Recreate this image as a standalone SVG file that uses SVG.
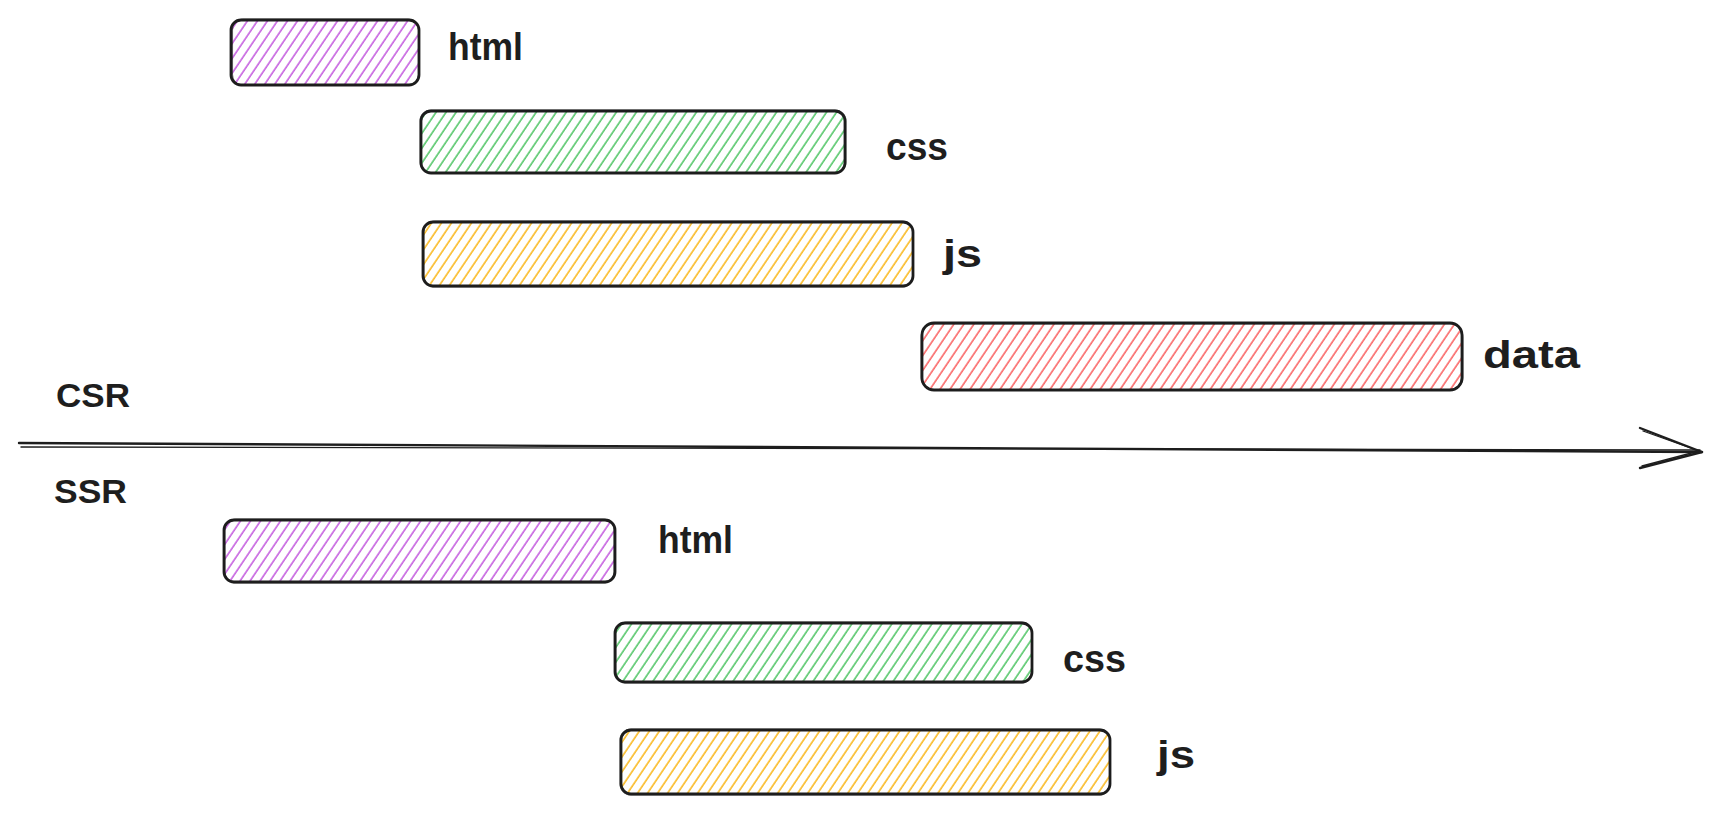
<svg xmlns="http://www.w3.org/2000/svg" width="1720" height="813" viewBox="0 0 1720 813">
  <style>
    .box { stroke: #1e1e1e; stroke-width: 2.8; stroke-linejoin: round; }
    .box2 { fill: none; stroke: #1e1e1e; stroke-width: 1.1; opacity: 0.55; }
    .lbl { font-family: "Liberation Sans", Arial, sans-serif; font-weight: bold; font-size: 38px; fill: #1e1e1e; }
    .ttl { font-family: "Liberation Sans", Arial, sans-serif; font-weight: bold; font-size: 33px; fill: #1e1e1e; }
    .axis { fill: none; stroke: #1e1e1e; stroke-linecap: round; stroke-linejoin: round; }
  </style>
  <defs>
    <pattern id="hPurple" width="8.3" height="10" patternUnits="userSpaceOnUse" patternTransform="rotate(34)">
      <line x1="1" y1="0" x2="1" y2="10" stroke="#be4bdb" stroke-width="1.4"/>
    </pattern>
    <pattern id="hGreen" width="8.3" height="10" patternUnits="userSpaceOnUse" patternTransform="rotate(34)">
      <line x1="1" y1="0" x2="1" y2="10" stroke="#40c057" stroke-width="1.4"/>
    </pattern>
    <pattern id="hOrange" width="8.3" height="10" patternUnits="userSpaceOnUse" patternTransform="rotate(34)">
      <line x1="1" y1="0" x2="1" y2="10" stroke="#fab005" stroke-width="1.4"/>
    </pattern>
    <pattern id="hRed" width="8.3" height="10" patternUnits="userSpaceOnUse" patternTransform="rotate(34)">
      <line x1="1" y1="0" x2="1" y2="10" stroke="#fa5252" stroke-width="1.4"/>
    </pattern>
  </defs>
  <rect width="1720" height="813" fill="#ffffff"/>

  <!-- CSR section -->
  <g id="csr-title">
    <text class="ttl" x="56" y="407" textLength="74" lengthAdjust="spacingAndGlyphs">CSR</text>
  </g>
  <g id="csr-html">
    <rect class="box" x="231" y="20" width="188" height="65" rx="10" fill="url(#hPurple)"/>
    <rect class="box2" x="232.5" y="19" width="186" height="66.5" rx="11"/>
    <text class="lbl" x="448" y="60" textLength="75" lengthAdjust="spacingAndGlyphs">html</text>
  </g>
  <g id="csr-css">
    <rect class="box" x="421" y="111" width="424" height="62" rx="10" fill="url(#hGreen)"/>
    <rect class="box2" x="420" y="110" width="426" height="63" rx="11"/>
    <text class="lbl" x="886" y="160" textLength="62" lengthAdjust="spacingAndGlyphs">css</text>
  </g>
  <g id="csr-js">
    <rect class="box" x="423" y="222" width="490" height="64" rx="10" fill="url(#hOrange)"/>
    <rect class="box2" x="424" y="221" width="489" height="66" rx="11"/>
    <text class="lbl" x="943" y="267" textLength="39" lengthAdjust="spacingAndGlyphs">js</text>
  </g>
  <g id="csr-data">
    <rect class="box" x="922" y="323" width="540" height="67" rx="12" fill="url(#hRed)"/>
    <rect class="box2" x="921" y="324" width="542" height="66" rx="13"/>
    <text class="lbl" x="1483" y="368" textLength="97" lengthAdjust="spacingAndGlyphs">data</text>
  </g>

  <!-- timeline arrow -->
  <g id="connectors">
    <path class="axis" stroke-width="2.4" d="M19 443 L1702 452"/>
    <path class="axis" stroke-width="1.4" d="M21 447 L1700 450"/>
    <path class="axis" stroke-width="2.4" d="M1640 428 L1702 452 L1640 468"/>
    <path class="axis" stroke-width="1.3" d="M1643 431 L1699 451 L1642 466"/>
  </g>

  <!-- SSR section -->
  <g id="ssr-title">
    <text class="ttl" x="54" y="503" textLength="73" lengthAdjust="spacingAndGlyphs">SSR</text>
  </g>
  <g id="ssr-html">
    <rect class="box" x="224" y="520" width="391" height="62" rx="10" fill="url(#hPurple)"/>
    <rect class="box2" x="225" y="519" width="389" height="64" rx="11"/>
    <text class="lbl" x="658" y="553" textLength="75" lengthAdjust="spacingAndGlyphs">html</text>
  </g>
  <g id="ssr-css">
    <rect class="box" x="615" y="623" width="417" height="59" rx="10" fill="url(#hGreen)"/>
    <rect class="box2" x="616" y="622" width="416" height="61" rx="11"/>
    <text class="lbl" x="1063" y="672" textLength="63" lengthAdjust="spacingAndGlyphs">css</text>
  </g>
  <g id="ssr-js">
    <rect class="box" x="621" y="730" width="489" height="64" rx="10" fill="url(#hOrange)"/>
    <rect class="box2" x="620" y="729" width="490" height="66" rx="11"/>
    <text class="lbl" x="1157" y="768" textLength="38" lengthAdjust="spacingAndGlyphs">js</text>
  </g>
</svg>
